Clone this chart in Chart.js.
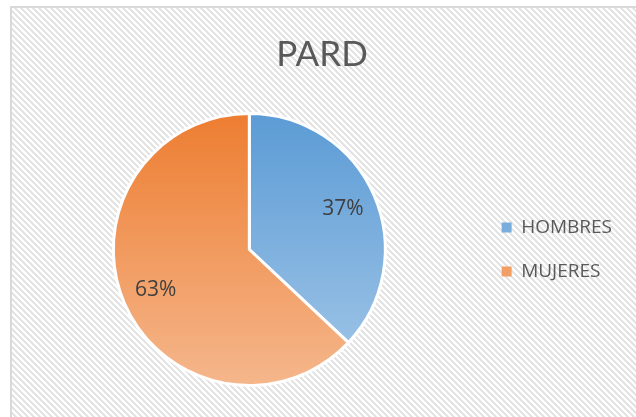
<!DOCTYPE html>
<html>
<head>
<meta charset="utf-8">
<script src="https://cdn.jsdelivr.net/npm/chart.js@4"></script>
<style>
  html, body { margin: 0; padding: 0; background: #fff; }
  #wrap { width: 636px; height: 417px; }
</style>
</head>
<body>
<div id="wrap"><canvas id="pard"></canvas></div>
<script>
const labels = ['HOMBRES', 'MUJERES'];
const values = [37, 63];

const topColors = ['#5b9bd5', '#ed7d31'];
const bottomColors = ['#a3c7e8', '#f5b78c'];

// little tile for the diagonal hatch in the background
const tile = document.createElement('canvas');
tile.width = 6;
tile.height = 6;
const tctx = tile.getContext('2d');
tctx.fillStyle = '#fff';
tctx.fillRect(0, 0, 6, 6);
tctx.fillStyle = '#e4e4e4';
for (let y = 0; y < 6; y++) {
  for (let x = 0; x < 6; x++) {
    if ((((x - y) % 6) + 6) % 6 < 3) tctx.fillRect(x, y, 1, 1);
  }
}

const frame = {
  id: 'frame',
  beforeDraw(chart) {
    const c = chart.ctx;
    c.save();
    c.fillStyle = '#fff';
    c.fillRect(0, 0, chart.width, chart.height);
    c.fillStyle = c.createPattern(tile, 'repeat');
    c.fillRect(10, 6, chart.width - 10, chart.height - 6);
    c.strokeStyle = '#d9d9d9';
    c.lineWidth = 2;
    c.strokeRect(11, 7, chart.width, chart.height);
    c.restore();
  }
};

const sliceLabels = {
  id: 'sliceLabels',
  afterDatasetsDraw(chart) {
    const c = chart.ctx;
    const meta = chart.getDatasetMeta(0);
    const total = values.reduce((a, b) => a + b, 0);
    c.save();
    c.fillStyle = '#404040';
    c.font = '21px "Open Sans"';
    c.textAlign = 'center';
    c.textBaseline = 'middle';
    meta.data.forEach((arc, i) => {
      const p = arc.getProps(['x', 'y', 'startAngle', 'endAngle', 'outerRadius']);
      const mid = (p.startAngle + p.endAngle) / 2;
      const r = p.outerRadius * 0.75;
      c.fillText(Math.round(values[i] / total * 100) + '%', p.x + Math.cos(mid) * r, p.y + Math.sin(mid) * r);
    });
    c.restore();
  }
};

function sliceFill(ctx) {
  const chart = ctx.chart;
  const area = chart.chartArea;
  if (!area) return topColors[ctx.dataIndex];
  const g = chart.ctx.createLinearGradient(0, area.top, 0, area.bottom);
  g.addColorStop(0, topColors[ctx.dataIndex]);
  g.addColorStop(1, bottomColors[ctx.dataIndex]);
  return g;
}

new Chart(document.getElementById('pard'), {
  type: 'pie',
  data: {
    labels: labels,
    datasets: [{
      data: values,
      backgroundColor: sliceFill,
      borderColor: '#ffffff',
      borderWidth: 3
    }]
  },
  options: {
    responsive: true,
    maintainAspectRatio: false,
    animation: false,
    events: [],
    layout: {
      padding: { left: 22, right: 14, top: 6, bottom: 30 }
    },
    plugins: {
      title: {
        display: true,
        text: 'PARD',
        color: '#595959',
        font: { family: 'Lato', size: 35, weight: 'normal' },
        padding: { top: 28, bottom: 36 }
      },
      legend: {
        position: 'right',
        fullSize: false,
        labels: {
          boxWidth: 10,
          boxHeight: 10,
          padding: 25,
          color: '#595959',
          font: { family: 'Open Sans', size: 19 },
          generateLabels(chart) {
            const items = Chart.overrides.doughnut.plugins.legend.labels.generateLabels(chart);
            items.forEach(it => { it.lineWidth = 0; });
            return items;
          }
        }
      },
      tooltip: { enabled: false }
    }
  },
  plugins: [frame, sliceLabels]
});
</script>
</body>
</html>
